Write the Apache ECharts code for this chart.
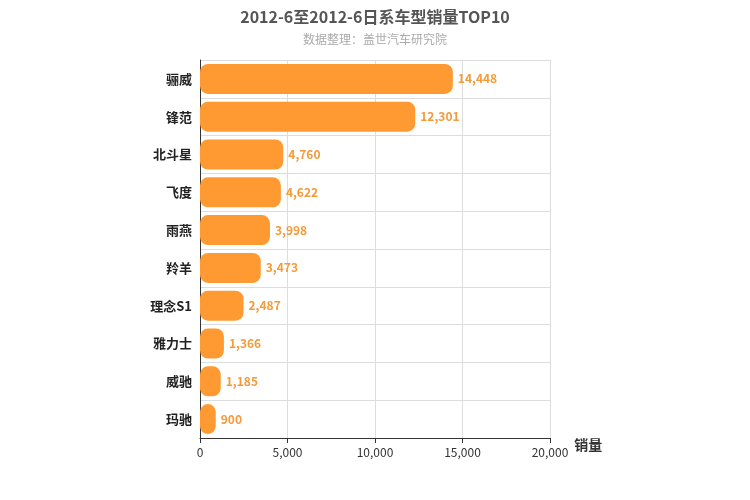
<!DOCTYPE html>
<html>
<head>
<meta charset="utf-8">
<script src="https://cdn.jsdelivr.net/npm/echarts@6/dist/echarts.min.js"></script>
</head>
<body style="margin:0">
<div id="main" style="width:750px;height:500px;"></div>
<script>
var models = ['骊威', '锋范', '北斗星', '飞度', '雨燕', '羚羊', '理念S1', '雅力士', '威驰', '玛驰'];
var sales = [14448, 12301, 4760, 4622, 3998, 3473, 2487, 1366, 1185, 900];
var xTicks = [0, 5000, 10000, 15000, 20000];

var chart = echarts.init(document.getElementById('main'));
chart.setOption({
    textStyle: { fontFamily: 'Noto Sans CJK SC' },
    title: {
        text: '2012-6至2012-6日系车型销量TOP10',
        subtext: '数据整理：盖世汽车研究院',
        left: 'center',
        top: 4,
        itemGap: 8,
        textStyle: { fontSize: 16, fontWeight: 'bold', color: '#555' },
        subtextStyle: { fontSize: 12, color: '#aaa' }
    },
    grid: { left: 200, right: 200, top: 60, bottom: 62 },
    xAxis: {
        type: 'value',
        min: xTicks[0],
        max: xTicks[xTicks.length - 1],
        interval: 5000,
        name: '销量',
        nameLocation: 'end',
        nameGap: 14,
        nameTextStyle: { fontSize: 14, fontWeight: 'bold', color: '#333', verticalAlign: 'top', padding: [0, 0, 0, 0] },
        axisLine: { show: true, lineStyle: { color: '#333' } },
        axisTick: { show: true, lineStyle: { color: '#333' } },
        axisLabel: { color: '#333', fontSize: 12 },
        splitLine: { lineStyle: { color: '#ddd' } }
    },
    yAxis: {
        type: 'category',
        data: models,
        inverse: true,
        axisLine: { lineStyle: { color: '#333' } },
        axisTick: { show: false },
        axisLabel: { color: '#222', fontSize: 13, fontWeight: 'bold', margin: 8 },
        splitLine: { show: true, lineStyle: { color: '#ddd' } }
    },
    series: [{
        type: 'bar',
        data: sales,
        barWidth: 30,
        itemStyle: { color: '#ff9a33', borderRadius: 8 },
        label: {
            show: true,
            position: 'right',
            color: '#f59a38',
            fontWeight: 'bold',
            fontSize: 12,
            formatter: function (p) { return p.value.toLocaleString('en-US'); }
        }
    }]
});
</script>
</body>
</html>
